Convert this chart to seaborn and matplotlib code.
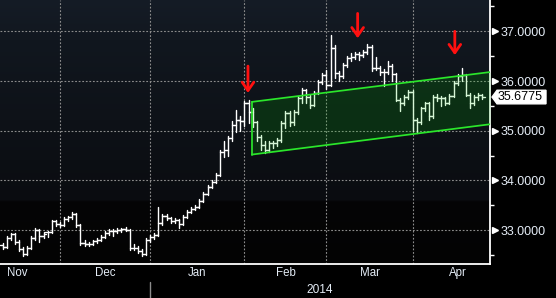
import numpy as np
import pandas as pd
import matplotlib
matplotlib.use("Agg")
import matplotlib.pyplot as plt
import matplotlib.transforms as mtransforms
from matplotlib.patches import Polygon
import seaborn as sns

# ---------------- data ----------------
start_date = "2013-11-12"
end_date = "2014-04-24"

opens = [32.70, 32.66, 32.84, 32.92, 32.76, 32.62, 32.52, 32.64, 32.84, 33.00, 32.88, 32.96, 32.96, 33.18,
         33.12, 33.10, 33.22, 33.26, 33.32, 33.10, 32.74, 32.72, 32.72, 32.78, 32.80, 32.86, 32.94, 32.98,
         32.98, 33.00, 33.02, 33.00, 32.64, 32.64, 32.58, 32.52, 32.80, 32.86, 32.90, 33.14, 33.28, 33.24,
         33.18, 33.20, 33.12, 33.26, 33.36, 33.42, 33.46, 33.58, 33.72, 33.86, 33.96, 34.10, 34.57, 34.61,
         34.85, 35.11, 35.21, 35.19, 35.55, 35.37, 35.17, 34.87, 34.71, 34.61, 34.75, 34.75, 34.81, 35.15,
         35.35, 35.17, 35.37, 35.66, 35.82, 35.68, 35.52, 35.76, 35.98, 36.12, 35.92, 36.66, 36.16, 36.10,
         36.32, 36.46, 36.48, 36.54, 36.52, 36.58, 36.68, 36.26, 36.26, 36.18, 36.18, 36.30, 36.14, 35.62,
         35.56, 35.68, 35.78, 35.21, 35.17, 35.45, 35.55, 35.29, 35.68, 35.66, 35.66, 35.56, 35.70, 35.96,
         36.10, 36.12, 35.72, 35.55, 35.68, 35.72]
highs = [32.74, 32.88, 32.95, 32.94, 32.80, 32.66, 32.68, 32.88, 33.04, 33.02, 32.96, 32.98, 33.20, 33.20,
         33.16, 33.26, 33.28, 33.36, 33.34, 33.12, 32.80, 32.76, 32.80, 32.84, 32.90, 32.98, 33.02, 33.02,
         33.04, 33.04, 33.06, 33.02, 32.72, 32.68, 32.62, 32.84, 32.90, 32.94, 33.46, 33.32, 33.32, 33.26,
         33.24, 33.22, 33.30, 33.40, 33.46, 33.50, 33.62, 33.76, 33.90, 34.00, 34.14, 34.62, 34.80, 34.90,
         35.20, 35.42, 35.30, 35.60, 35.62, 35.46, 35.20, 34.92, 34.80, 34.80, 34.80, 34.86, 35.20, 35.40,
         35.40, 35.42, 35.70, 35.86, 35.84, 35.72, 35.80, 36.02, 36.16, 36.22, 36.92, 36.72, 36.20, 36.36,
         36.50, 36.56, 36.58, 36.58, 36.62, 36.74, 36.72, 36.48, 36.30, 36.24, 36.40, 36.34, 36.16, 35.66,
         35.72, 35.82, 35.82, 35.26, 35.48, 35.58, 35.58, 35.72, 35.74, 35.70, 35.68, 35.74, 36.00, 36.14,
         36.26, 36.14, 35.76, 35.72, 35.76, 35.74]
lows = [32.62, 32.64, 32.80, 32.72, 32.58, 32.48, 32.50, 32.62, 32.80, 32.76, 32.84, 32.86, 32.94, 33.08,
        33.06, 33.08, 33.18, 33.22, 33.06, 32.70, 32.68, 32.68, 32.70, 32.74, 32.78, 32.84, 32.90, 32.88,
        32.94, 32.96, 32.98, 32.60, 32.60, 32.54, 32.48, 32.50, 32.76, 32.82, 32.88, 33.10, 33.20, 33.14,
        33.14, 33.04, 33.10, 33.24, 33.34, 33.40, 33.44, 33.56, 33.70, 33.84, 33.94, 34.08, 34.48, 34.50,
        34.80, 34.98, 35.00, 35.10, 35.16, 35.08, 34.80, 34.62, 34.56, 34.58, 34.66, 34.70, 34.78, 35.06,
        35.10, 35.12, 35.34, 35.56, 35.56, 35.46, 35.50, 35.74, 35.94, 35.84, 35.90, 36.06, 36.00, 36.06,
        36.28, 36.40, 36.44, 36.42, 36.48, 36.54, 36.20, 36.22, 36.12, 35.90, 36.14, 36.00, 35.60, 35.40,
        35.52, 35.64, 35.00, 34.96, 35.14, 35.40, 35.22, 35.26, 35.60, 35.50, 35.52, 35.54, 35.68, 35.92,
        36.00, 35.70, 35.46, 35.52, 35.62, 35.64]
closes = [32.66, 32.84, 32.92, 32.76, 32.62, 32.52, 32.64, 32.84, 33.00, 32.88, 32.92, 32.96, 33.18, 33.12,
          33.10, 33.22, 33.26, 33.32, 33.10, 32.74, 32.72, 32.72, 32.78, 32.80, 32.86, 32.94, 32.98, 32.98,
          33.00, 33.02, 33.00, 32.64, 32.64, 32.58, 32.52, 32.80, 32.86, 32.90, 33.14, 33.28, 33.24, 33.18,
          33.20, 33.12, 33.26, 33.36, 33.42, 33.46, 33.58, 33.72, 33.86, 33.96, 34.10, 34.57, 34.61, 34.85,
          35.11, 35.21, 35.19, 35.55, 35.37, 35.17, 34.87, 34.71, 34.61, 34.75, 34.75, 34.81, 35.15, 35.35,
          35.17, 35.37, 35.66, 35.82, 35.68, 35.52, 35.76, 35.98, 36.12, 35.92, 36.66, 36.16, 36.10, 36.32,
          36.46, 36.48, 36.54, 36.52, 36.58, 36.68, 36.26, 36.26, 36.18, 36.18, 36.30, 36.14, 35.62, 35.56,
          35.68, 35.78, 35.21, 35.17, 35.45, 35.55, 35.29, 35.68, 35.66, 35.66, 35.56, 35.70, 35.96, 36.10,
          36.12, 35.72, 35.55, 35.68, 35.72, 35.6775]

last_price = 35.6775

# trend channel (bar-index positions and prices)
channel_pos = [60.8, 118.9]
channel_upper = [35.58, 36.18]
channel_lower = [34.52, 35.13]

# red arrow annotations (bar-index position, tail price, tip price)
arrow_pos = [59.85, 86.6, 110.3]
arrow_tail = [36.30, 37.36, 37.00]
arrow_tip = [35.76, 36.86, 36.52]

month_labels = ["Nov", "Dec", "Jan", "Feb", "Mar", "Apr"]
year_label = "2014"
y_major = [33, 34, 35, 36, 37]
y_minor = [32.5, 33.5, 34.5, 35.5, 36.5, 37.5]

# ---------------- build frame ----------------
dates = pd.bdate_range(start_date, end_date)
n = len(dates)
pos = np.arange(n)
df = pd.DataFrame({"date": dates, "pos": pos, "open": opens, "high": highs,
                   "low": lows, "close": closes})

tick = 0.55
rows = []
for r in df.itertuples():
    rows += [(r.pos, r.low, f"v{r.pos}"), (r.pos, r.high, f"v{r.pos}"),
             (r.pos - tick, r.open, f"o{r.pos}"), (r.pos, r.open, f"o{r.pos}"),
             (r.pos, r.close, f"c{r.pos}"), (r.pos + tick, r.close, f"c{r.pos}")]
segs = pd.DataFrame(rows, columns=["x", "y", "seg"])

# month positions in the business-day index
ext = pd.bdate_range("2013-11-01", "2014-05-01")
first_pos = pd.Series(np.arange(len(ext)) - ext.get_loc(dates[0]), index=ext)
month_starts = [first_pos[first_pos.index >= pd.Timestamp(f"{y}-{m:02d}-01")].iloc[0]
                for y, m in [(2013, 11), (2013, 12), (2014, 1), (2014, 2), (2014, 3), (2014, 4), (2014, 5)]]
boundaries = month_starts[1:6]
centers = [(month_starts[i] + month_starts[i + 1]) / 2 for i in range(6)]

# ---------------- figure ----------------
sns.set_style("dark")
plt.rcParams["font.family"] = ["Liberation Sans", "DejaVu Sans"]

W, H = 556, 298
fig = plt.figure(figsize=(W / 100, H / 100), dpi=100, facecolor="black")
ax = fig.add_axes([0, 34 / H, 490 / W, 264 / H])
ax.set_facecolor("black")

xmin, xmax = -0.63, 118.88
ymin, ymax = 32.318, 37.63
ax.set_xlim(xmin, xmax)
ax.set_ylim(ymin, ymax)

# background gradient
ys = np.linspace(0, 264, 265)
stops_y = [0, 40, 120, 200, 202, 264]
stops_c = np.array([[21, 28, 38], [17, 23, 31], [14, 18, 24], [10, 12, 16], [5, 5, 6], [3, 3, 3]]) / 255
grad = np.stack([np.interp(ys, stops_y, stops_c[:, i]) for i in range(3)], axis=1)
ax.imshow(grad[:, None, :], extent=[xmin, xmax, ymin, ymax], aspect="auto",
          origin="upper", zorder=0, interpolation="bilinear")

# grid
for b in boundaries:
    ax.axvline(b, color="#8c8c8c", lw=0.8, ls=(0, (1.6, 1.6)), zorder=1)
for v in y_major:
    ax.axhline(v, color="#8c8c8c", lw=0.8, ls=(0, (1.6, 1.6)), zorder=1)

# OHLC bars
sns.lineplot(data=segs, x="x", y="y", units="seg", estimator=None, sort=False,
             color="white", linewidth=1.0, ax=ax, zorder=2, legend=False)

# channel
ax.fill_between(channel_pos, channel_lower, channel_upper, color=(0, 0.8, 0), alpha=0.16,
                lw=0, zorder=3)
ch = pd.DataFrame({"x": channel_pos * 2, "y": channel_upper + channel_lower,
                   "line": ["u", "u", "l", "l"]})
sns.lineplot(data=ch, x="x", y="y", units="line", estimator=None, color="#2be62b",
             linewidth=1.25, ax=ax, zorder=4, legend=False)
ax.plot([channel_pos[0]] * 2, [channel_lower[0], channel_upper[0]], color="#2be62b",
        lw=1.25, zorder=4)

# arrows
for xp, yt, yh in zip(arrow_pos, arrow_tail, arrow_tip):
    ax.annotate("", xy=(xp, yh), xytext=(xp, yt),
                arrowprops=dict(arrowstyle="->,head_length=0.6,head_width=0.42",
                                color="#ff1010", lw=2.0, shrinkA=0, shrinkB=0),
                zorder=5)

# axes styling
for s in ["top", "left"]:
    ax.spines[s].set_visible(False)
for s in ["right", "bottom"]:
    ax.spines[s].set_color("white")
    ax.spines[s].set_linewidth(1.3)
ax.set_xlabel("")
ax.set_ylabel("")

ax.yaxis.tick_right()
ax.set_yticks(y_major)
ax.set_yticklabels([f"{v:.4f}" for v in y_major])
ax.set_yticks(y_minor, minor=True)
ax.tick_params(axis="y", which="major", length=0, pad=7.5, labelcolor="#e4ecf6", labelsize=9)
ax.tick_params(axis="y", which="minor", length=3, width=1, color="white", direction="out")

ax.set_xticks(boundaries)
ax.set_xticklabels([""] * len(boundaries))
ax.set_xticks(centers, minor=True)
ax.set_xticklabels(month_labels, minor=True)
ax.tick_params(axis="x", which="major", length=3.5, width=1, color="white", direction="out")
ax.tick_params(axis="x", which="minor", length=0, pad=2, labelcolor="#e4ecf6", labelsize=8.3)
ax.grid(False)

# triangle pointers at major ticks
trans = mtransforms.blended_transform_factory(ax.transAxes, ax.transData)
ax.plot([1.0 + 5 / 490] * len(y_major), y_major, marker=">", ms=5, color="white",
        ls="none", transform=trans, clip_on=False, zorder=6)

# last price box
hh = 6.8 / 49.7
poly = Polygon([(1.0 + 2 / 490, last_price), (1.0 + 7 / 490, last_price + hh),
                (1.0 + 56 / 490, last_price + hh), (1.0 + 56 / 490, last_price - hh),
                (1.0 + 7 / 490, last_price - hh)], closed=True, facecolor="white",
               edgecolor="white", transform=trans, clip_on=False, zorder=7)
ax.add_patch(poly)
ax.text(1.0 + 8 / 490, last_price, f"{last_price:.4f}", transform=trans, color="black",
        fontsize=9, va="center", ha="left", zorder=8, clip_on=False)

# year label and separator
xtrans = mtransforms.blended_transform_factory(ax.transData, ax.transAxes)
ax.text(np.mean([boundaries[1], xmax]), -0.097, year_label, transform=xtrans,
        color="#e4ecf6", fontsize=8.6, ha="center", va="center")
ax.plot([boundaries[1]] * 2, [-0.068, -0.13], color="#8c8c8c", lw=1,
        transform=xtrans, clip_on=False)

fig.savefig("out.png", dpi=100, facecolor="black")
